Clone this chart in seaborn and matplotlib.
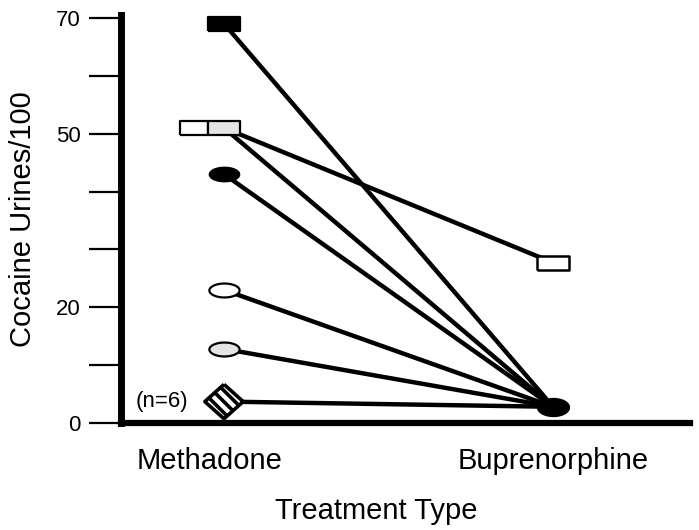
import numpy as np
import pandas as pd
import matplotlib
matplotlib.use("Agg")
import matplotlib.pyplot as plt
import seaborn as sns
from matplotlib.transforms import ScaledTranslation

# ---------------- data ----------------
treatments = ["Methadone", "Buprenorphine"]
subjects = ["A", "B", "C", "D", "E", "F", "G"]
methadone_vals = [69, 51, 51, 43, 23, 12.8, 3.7]
buprenorphine_vals = [2.8, 27.7, 2.8, 2.8, 2.8, 2.8, 2.8]
ytick_values = [0, 10, 20, 30, 40, 50, 60, 70]
ytick_labels = ["0", "", "20", "", "", "50", "", "70"]
n_label = "(n=6)"

# ---------------- style ----------------
sns.set_style("white")
plt.rcParams["font.family"] = ["Liberation Sans", "DejaVu Sans"]
plt.rcParams["hatch.linewidth"] = 2.6
plt.rcParams["text.color"] = "black"
plt.rcParams["axes.labelcolor"] = "black"
plt.rcParams["xtick.color"] = "black"
plt.rcParams["ytick.color"] = "black"

fig = plt.figure(figsize=(6.99, 5.30), dpi=100)
ax = fig.add_axes([0.1731, 0.2019, 0.814, 0.7698])

rows = []
for s, m, b in zip(subjects, methadone_vals, buprenorphine_vals):
    rows.append({"subject": s, "treatment": treatments[0], "value": m})
    rows.append({"subject": s, "treatment": treatments[1], "value": b})
df = pd.DataFrame(rows)

sns.lineplot(data=df, x="treatment", y="value", units="subject",
             estimator=None, sort=False, color="black", lw=3.2,
             legend=False, ax=ax, zorder=2)

# custom marker shapes
rect = [(-1, -0.48), (1, -0.48), (1, 0.48), (-1, 0.48), (-1, -0.48)]
t = np.linspace(0, 2 * np.pi, 64)
ell = list(zip(np.cos(t), 0.46 * np.sin(t)))
ell_big = list(zip(np.cos(t), 0.55 * np.sin(t)))
diam = [(0, 0.9), (1, 0), (0, -0.9), (-1, 0), (0, 0.9)]

meth = dict(zip(subjects, methadone_vals))
bup = dict(zip(subjects, buprenorphine_vals))
M, B = treatments

sz = 500
common = dict(zorder=4, clip_on=False, edgecolors="black")
# Methadone markers
off = ax.transData + ScaledTranslation(-30 / 100, 0, fig.dpi_scale_trans)
ax.scatter([M], [meth["C"]], marker=rect, s=sz * 0.85, facecolors="white",
           linewidths=1.6, transform=off, **common)
ax.scatter([M], [meth["A"]], marker=rect, s=sz, facecolors="black",
           linewidths=1.6, **common)
ax.scatter([M], [meth["B"]], marker=rect, s=sz, facecolors="#e4e4e4",
           linewidths=1.6, **common)
ax.scatter([M], [meth["D"]], marker=ell, s=sz * 0.9, facecolors="black",
           linewidths=1.6, **common)
ax.scatter([M], [meth["E"]], marker=ell, s=sz * 0.95, facecolors="white",
           linewidths=1.6, **common)
ax.scatter([M], [meth["F"]], marker=ell, s=sz * 0.95, facecolors="#e4e4e4",
           linewidths=1.6, **common)
ax.scatter([M], [meth["G"]], marker=diam, s=760, facecolors="white",
           linewidths=2.6, hatch="\\\\\\", **common)
# Buprenorphine markers
ax.scatter([B], [bup["B"]], marker=rect, s=sz, facecolors="white",
           linewidths=1.8, **common)
ax.scatter([B], [bup["A"]], marker=ell_big, s=sz, facecolors="black",
           linewidths=1.6, **common)

ax.annotate(n_label, xy=(M, meth["G"]), xytext=(-26, 0),
            textcoords="offset points", ha="right", va="center",
            fontsize=16)

# axes
ax.set_xlim(-0.313, 1.416)
ax.set_ylim(0, 70.5)
ax.set_yticks(ytick_values)
ax.set_yticklabels(ytick_labels, fontsize=16)
ax.tick_params(axis="y", direction="out", length=23, width=1.6,
               pad=6, color="black", left=True)
ax.tick_params(axis="x", length=0, pad=17, labelsize=21)

for side in ["top", "right"]:
    ax.spines[side].set_visible(False)
ax.spines["left"].set_linewidth(5)
ax.spines["bottom"].set_linewidth(4.5)
for side in ["left", "bottom"]:
    ax.spines[side].set_color("black")
    ax.spines[side].set_capstyle("projecting")

ax.set_xlabel("Treatment Type", fontsize=21, labelpad=16, x=0.449)
ax.set_ylabel("Cocaine Urines/100", fontsize=21, labelpad=14)

# Methadone label sits slightly left of its points
lbl = ax.get_xticklabels()[0]
lbl.set_transform(lbl.get_transform() +
                  ScaledTranslation(-14 / 100, 0, fig.dpi_scale_trans))

fig.savefig("out.png", dpi=100)
